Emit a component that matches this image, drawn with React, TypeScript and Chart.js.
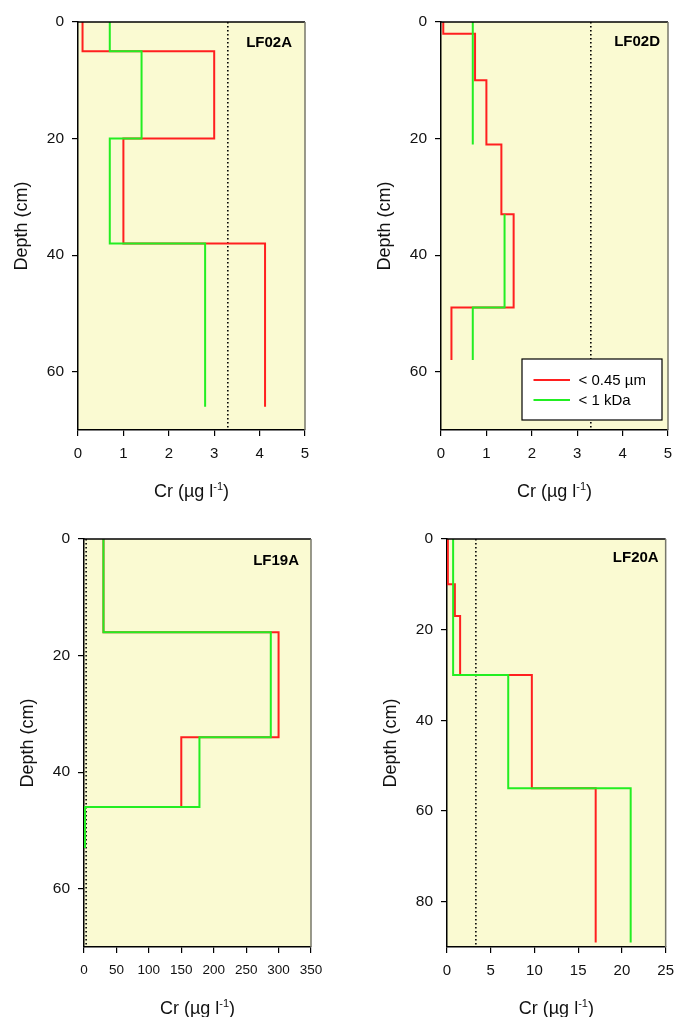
import { useEffect, useRef } from "react";
import { Chart, registerables } from "chart.js";

Chart.register(...registerables);

const FONT = "'Liberation Sans', Arial, Helvetica, sans-serif";

// Series names
const SERIES_FILTERED = "< 0.45 µm";
const SERIES_ULTRA = "< 1 kDa";

// Reference concentration drawn as a dotted vertical line (µg l-1)
const GUIDELINE_CR = 3.3;

// LF02A — depth boundaries (cm) and Cr per layer (µg l-1)
const LF02A_DEPTHS = [0, 5, 20, 38, 66];
const LF02A_FILTERED = [0.1, 3.0, 1.0, 4.12];
const LF02A_ULTRA = [0.7, 1.4, 0.7, 2.8];

// LF02D
const LF02D_FILTERED_DEPTHS = [0, 2, 10, 21, 33, 49, 58];
const LF02D_FILTERED = [0.05, 0.75, 1.0, 1.33, 1.6, 0.23];
const LF02D_ULTRA_DEPTHS = [0, 21, 33, 49, 58];
const LF02D_ULTRA = [0.7, null, 1.4, 0.7];

// LF19A
const LF19A_DEPTHS = [0, 16, 34, 46, 53];
const LF19A_FILTERED = [30, 300, 150, 1.5];
const LF19A_ULTRA = [30, 288, 178, 1.5];

// LF20A
const LF20A_FILTERED_DEPTHS = [0, 10, 17, 30, 55, 89];
const LF20A_FILTERED = [0.1, 0.9, 1.5, 9.7, 17.0];
const LF20A_ULTRA_DEPTHS = [0, 30, 55, 89];
const LF20A_ULTRA = [0.7, 7.0, 21.0];

// Tick labels
const X_TICKS_5 = [0, 1, 2, 3, 4, 5];
const X_TICKS_350 = [0, 50, 100, 150, 200, 250, 300, 350];
const X_TICKS_25 = [0, 5, 10, 15, 20, 25];
const Y_TICKS_70 = [0, 20, 40, 60];
const Y_TICKS_90 = [0, 20, 40, 60, 80];

const RED = "#ff1f1f";
const GREEN = "#22ee22";
const PLOT_BG = "#fafad2";

type Series = {
  name: string;
  depths: number[];
  values: (number | null)[];
  color: string;
};

type PanelSpec = {
  label: string;
  pos: { left: number; top: number; w: number; h: number };
  area: { l: number; t: number; r: number; b: number };
  xMax: number;
  xTicks: number[];
  yMax: number;
  yTicks: number[];
  xTickSize: number;
  labelInset: number;
  labelDrop: number;
  legend: boolean;
  series: Series[];
};

// Turns layer boundaries + per-layer values into a stepped profile path.
function stepPoints(depths: number[], values: (number | null)[]) {
  const pts: { x: number | null; y: number | null }[] = [];
  values.forEach((v, i) => {
    if (v === null) {
      pts.push({ x: null, y: null });
      return;
    }
    pts.push({ x: v, y: depths[i] });
    pts.push({ x: v, y: depths[i + 1] });
  });
  return pts;
}

const PANELS: PanelSpec[] = [
  {
    label: "LF02A",
    pos: { left: 0, top: 0, w: 341, h: 508 },
    area: { l: 78, t: 22, r: 305, b: 430 },
    xMax: 5,
    xTicks: X_TICKS_5,
    yMax: 70,
    yTicks: Y_TICKS_70,
    xTickSize: 15,
    labelInset: 13,
    labelDrop: 21,
    legend: false,
    series: [
      { name: SERIES_FILTERED, depths: LF02A_DEPTHS, values: LF02A_FILTERED, color: RED },
      { name: SERIES_ULTRA, depths: LF02A_DEPTHS, values: LF02A_ULTRA, color: GREEN },
    ],
  },
  {
    label: "LF02D",
    pos: { left: 341, top: 0, w: 342, h: 508 },
    area: { l: 100, t: 22, r: 327, b: 430 },
    xMax: 5,
    xTicks: X_TICKS_5,
    yMax: 70,
    yTicks: Y_TICKS_70,
    xTickSize: 15,
    labelInset: 8,
    labelDrop: 19.5,
    legend: true,
    series: [
      { name: SERIES_FILTERED, depths: LF02D_FILTERED_DEPTHS, values: LF02D_FILTERED, color: RED },
      { name: SERIES_ULTRA, depths: LF02D_ULTRA_DEPTHS, values: LF02D_ULTRA, color: GREEN },
    ],
  },
  {
    label: "LF19A",
    pos: { left: 0, top: 508, w: 341, h: 509 },
    area: { l: 84, t: 31, r: 311, b: 439 },
    xMax: 350,
    xTicks: X_TICKS_350,
    yMax: 70,
    yTicks: Y_TICKS_70,
    xTickSize: 13.5,
    labelInset: 12,
    labelDrop: 22,
    legend: false,
    series: [
      { name: SERIES_FILTERED, depths: LF19A_DEPTHS, values: LF19A_FILTERED, color: RED },
      { name: SERIES_ULTRA, depths: LF19A_DEPTHS, values: LF19A_ULTRA, color: GREEN },
    ],
  },
  {
    label: "LF20A",
    pos: { left: 341, top: 508, w: 342, h: 509 },
    area: { l: 106, t: 31, r: 332, b: 439 },
    xMax: 25,
    xTicks: X_TICKS_25,
    yMax: 90,
    yTicks: Y_TICKS_90,
    xTickSize: 15,
    labelInset: 7,
    labelDrop: 19,
    legend: false,
    series: [
      { name: SERIES_FILTERED, depths: LF20A_FILTERED_DEPTHS, values: LF20A_FILTERED, color: RED },
      { name: SERIES_ULTRA, depths: LF20A_ULTRA_DEPTHS, values: LF20A_ULTRA, color: GREEN },
    ],
  },
];

function drawXTitle(ctx: CanvasRenderingContext2D, cx: number, cy: number) {
  const main = "Cr (µg l";
  const sup = "-1";
  const close = ")";
  ctx.font = `18px ${FONT}`;
  const wMain = ctx.measureText(main).width;
  const wClose = ctx.measureText(close).width;
  ctx.font = `11px ${FONT}`;
  const wSup = ctx.measureText(sup).width;
  const x0 = cx - (wMain + wSup + wClose) / 2;
  const base = cy + 6.5;
  ctx.textAlign = "left";
  ctx.textBaseline = "alphabetic";
  ctx.fillStyle = "#111";
  ctx.font = `18px ${FONT}`;
  ctx.fillText(main, x0, base);
  ctx.fillText(close, x0 + wMain + wSup, base);
  ctx.font = `11px ${FONT}`;
  ctx.fillText(sup, x0 + wMain, base - 7);
}

function ProfilePanel({ spec }: { spec: PanelSpec }) {
  const ref = useRef<HTMLCanvasElement | null>(null);

  useEffect(() => {
    const canvas = ref.current;
    if (!canvas) return;
    const { w, h } = spec.pos;
    const a = spec.area;

    const decor = {
      id: "profileDecor",
      beforeDraw(chart: any) {
        const { ctx, chartArea } = chart;
        ctx.save();
        ctx.fillStyle = PLOT_BG;
        ctx.fillRect(
          chartArea.left,
          chartArea.top,
          chartArea.right - chartArea.left,
          chartArea.bottom - chartArea.top
        );
        ctx.restore();
      },
      afterDraw(chart: any) {
        const { ctx, chartArea: ca } = chart;
        ctx.save();
        // top and right edges of the frame
        ctx.lineWidth = 1.5;
        ctx.strokeStyle = "#000";
        ctx.beginPath();
        ctx.moveTo(ca.left, ca.top);
        ctx.lineTo(ca.right, ca.top);
        ctx.stroke();
        ctx.strokeStyle = "#77776a";
        ctx.beginPath();
        ctx.moveTo(ca.right, ca.top);
        ctx.lineTo(ca.right, ca.bottom);
        ctx.stroke();

        // core label
        ctx.fillStyle = "#000";
        ctx.font = `bold 15px ${FONT}`;
        ctx.textAlign = "right";
        ctx.textBaseline = "middle";
        ctx.fillText(spec.label, ca.right - spec.labelInset, ca.top + spec.labelDrop);

        // legend
        if (spec.legend) {
          const bw = 140;
          const bh = 61;
          const bx = ca.right - 6 - bw;
          const by = ca.bottom - 10 - bh;
          ctx.fillStyle = "#fff";
          ctx.fillRect(bx, by, bw, bh);
          ctx.strokeStyle = "#000";
          ctx.lineWidth = 1.2;
          ctx.strokeRect(bx, by, bw, bh);
          spec.series.forEach((s, i) => {
            const ry = by + 21 + i * 20;
            ctx.strokeStyle = s.color;
            ctx.lineWidth = 2;
            ctx.beginPath();
            ctx.moveTo(bx + 11.5, ry);
            ctx.lineTo(bx + 48, ry);
            ctx.stroke();
            ctx.fillStyle = "#000";
            ctx.font = `15px ${FONT}`;
            ctx.textAlign = "left";
            ctx.textBaseline = "middle";
            ctx.fillText(s.name, bx + 56.5, ry + 1);
          });
        }

        // axis titles
        drawXTitle(ctx, (ca.left + ca.right) / 2, ca.bottom + 60);
        ctx.save();
        ctx.translate(ca.left - 55.5, (ca.top + ca.bottom) / 2);
        ctx.rotate(-Math.PI / 2);
        ctx.fillStyle = "#111";
        ctx.font = `18px ${FONT}`;
        ctx.textAlign = "center";
        ctx.textBaseline = "middle";
        ctx.fillText("Depth (cm)", 0, 0);
        ctx.restore();

        ctx.restore();
      },
    };

    const datasets: any[] = [
      {
        label: "guideline",
        data: [
          { x: GUIDELINE_CR, y: 0 },
          { x: GUIDELINE_CR, y: spec.yMax },
        ],
        showLine: true,
        borderColor: "#000",
        borderWidth: 1.6,
        borderDash: [1.4, 2.6],
        pointRadius: 0,
        order: 3,
      },
      ...spec.series.map((s) => ({
        label: s.name,
        data: stepPoints(s.depths, s.values),
        showLine: true,
        spanGaps: false,
        borderColor: s.color,
        borderWidth: 2,
        pointRadius: 0,
        order: s.color === GREEN ? 1 : 2,
      })),
    ];

    const tickFont = (size: number) => ({ family: FONT, size });

    const chart = new Chart(canvas, {
      type: "scatter",
      data: { datasets },
      plugins: [decor],
      options: {
        animation: false,
        responsive: false,
        devicePixelRatio: 1,
        events: [],
        layout: { padding: { left: 0, top: a.t, right: w - a.r, bottom: 0 } },
        plugins: { legend: { display: false }, tooltip: { enabled: false } },
        scales: {
          x: {
            type: "linear",
            position: "bottom",
            min: 0,
            max: spec.xMax,
            afterBuildTicks: (s: any) => {
              s.ticks = spec.xTicks.map((v) => ({ value: v }));
            },
            afterFit: (s: any) => {
              s.height = h - a.b;
            },
            grid: {
              display: true,
              drawOnChartArea: false,
              drawTicks: true,
              tickLength: 6,
              color: "#000",
              lineWidth: 1.2,
            },
            border: { display: true, color: "#000", width: 1.5 },
            ticks: {
              font: tickFont(spec.xTickSize),
              color: "#111",
              padding: 9,
              maxRotation: 0,
              autoSkip: false,
              callback: (v: any) => String(v),
            },
          },
          y: {
            type: "linear",
            position: "left",
            reverse: true,
            min: 0,
            max: spec.yMax,
            afterBuildTicks: (s: any) => {
              s.ticks = spec.yTicks.map((v) => ({ value: v }));
            },
            afterFit: (s: any) => {
              s.width = a.l;
            },
            grid: {
              display: true,
              drawOnChartArea: false,
              drawTicks: true,
              tickLength: 6,
              color: "#000",
              lineWidth: 1.2,
            },
            border: { display: true, color: "#000", width: 1.5 },
            ticks: {
              font: tickFont(15.5),
              color: "#111",
              padding: 8,
              autoSkip: false,
              callback: (v: any) => String(v),
            },
          },
        },
      } as any,
    });

    return () => chart.destroy();
  }, [spec]);

  const { left, top, w, h } = spec.pos;
  return (
    <canvas
      ref={ref}
      width={w}
      height={h}
      style={{ position: "absolute", left, top, width: w, height: h, display: "block" }}
    />
  );
}

export default function App() {
  return (
    <div
      style={{
        position: "absolute",
        left: 0,
        top: 0,
        width: 683,
        height: 1017,
        background: "#fff",
        overflow: "hidden",
      }}
    >
      {PANELS.map((p) => (
        <ProfilePanel key={p.label} spec={p} />
      ))}
    </div>
  );
}
